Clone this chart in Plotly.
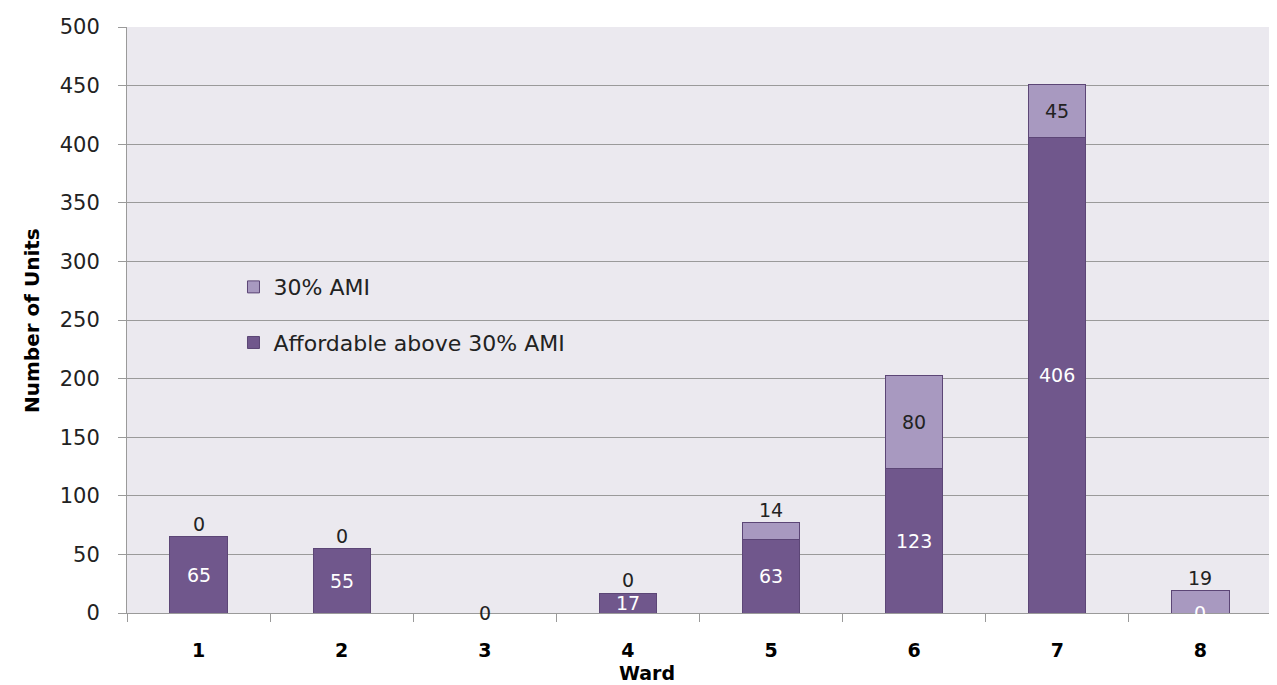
import plotly.graph_objects as go

wards = ["1", "2", "3", "4", "5", "6", "7", "8"]
affordable_above_30 = [65, 55, 0, 17, 63, 123, 406, 0]
ami_30 = [0, 0, 0, 0, 14, 80, 45, 19]
y_ticks = [0, 50, 100, 150, 200, 250, 300, 350, 400, 450, 500]

DARK = "#70578C"
LIGHT = "#A899C0"
EDGE = "#5C4676"
FONT = "DejaVu Sans"

fig = go.Figure()
fig.add_trace(go.Bar(
    x=wards, y=affordable_above_30, name="Affordable above 30% AMI",
    marker=dict(color=DARK, line=dict(color=EDGE, width=1)),
    legendgroup="a", legendrank=2, hoverinfo="x+y+name",
))
fig.add_trace(go.Bar(
    x=wards, y=ami_30, name="30% AMI",
    marker=dict(color=LIGHT, line=dict(color=EDGE, width=1)),
    legendgroup="b", legendrank=1, hoverinfo="x+y+name",
))

annotations = []
for i, (d, l) in enumerate(zip(affordable_above_30, ami_30)):
    total = d + l
    if total > 0:
        annotations.append(dict(x=i, y=d / 2, xref="x", yref="y", text=str(d),
                                showarrow=False, yanchor="middle",
                                font=dict(family=FONT, size=19, color="white")))
    if l >= 30:
        annotations.append(dict(x=i, y=d + l / 2, xref="x", yref="y", text=str(l),
                                showarrow=False, yanchor="middle",
                                font=dict(family=FONT, size=19, color="#222")))
    elif total == 0:
        annotations.append(dict(x=i, y=0, xref="x", yref="y", text=str(l),
                                showarrow=False, yanchor="middle",
                                font=dict(family=FONT, size=19, color="#222")))
    else:
        annotations.append(dict(x=i, y=total, xref="x", yref="y", text=str(l),
                                showarrow=False, yanchor="bottom", yshift=0,
                                font=dict(family=FONT, size=19, color="#222")))

annotations.append(dict(x=0.454, y=-0.102, xref="paper", yref="paper", text="<b>Ward</b>",
                        showarrow=False, xanchor="center", yanchor="middle",
                        font=dict(family=FONT, size=19, color="black")))
annotations.append(dict(x=-0.083, y=0.5, xref="paper", yref="paper",
                        text="<b>Number of Units</b>", textangle=-90,
                        showarrow=False, xanchor="center", yanchor="middle",
                        font=dict(family=FONT, size=20, color="black")))

fig.update_layout(
    width=1269, height=677,
    margin=dict(l=119, r=5, t=19, b=72),
    barmode="stack", bargap=0.6,
    plot_bgcolor="#EBE9EF", paper_bgcolor="white",
    font=dict(family=FONT, size=17, color="#222"),
    showlegend=True,
    legend=dict(x=0.093, y=0.592, xanchor="left", yanchor="top",
                bgcolor="rgba(0,0,0,0)", traceorder="reversed+grouped",
                tracegroupgap=24, font=dict(family=FONT, size=22, color="#222")),
    annotations=annotations,
    xaxis=dict(showgrid=False, showline=True, linecolor="#9A9A9A", linewidth=1,
               ticks="outside", tickson="boundaries", ticklen=8, tickcolor="#9A9A9A",
               tickfont=dict(family=FONT, size=19, color="black", weight="bold"),
               ticklabelstandoff=20),
    yaxis=dict(range=[0, 500], tickvals=y_ticks, showgrid=True, gridcolor="#9A9A9A",
               gridwidth=1, showline=True, linecolor="#9A9A9A", linewidth=1,
               ticks="outside", ticklen=8, tickcolor="#9A9A9A", zeroline=False,
               tickfont=dict(family=FONT, size=21, color="#222"),
               ticklabelstandoff=14),
)

fig.write_html("out.html")
